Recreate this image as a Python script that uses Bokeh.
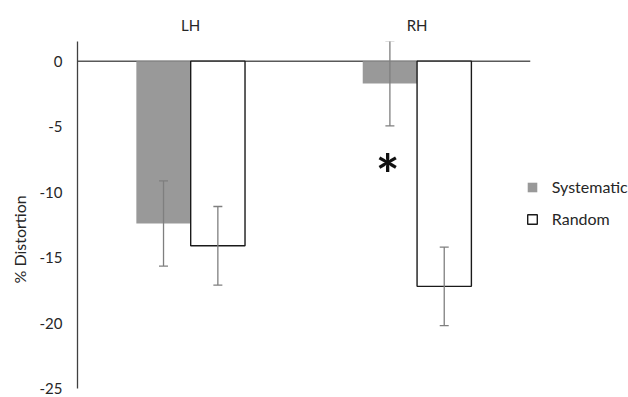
from bokeh.plotting import figure
from bokeh.models import (ColumnDataSource, Range1d, Title,
                          Legend, LegendItem, FixedTicker)
from bokeh.core.properties import value
from bokeh.embed import file_html
from bokeh.resources import INLINE

# ---- data ----
hemispheres = ["LH", "RH"]
systematic = [-12.4, -1.7]
systematic_err = [3.25, 3.25]
random_vals = [-14.1, -17.2]
random_err = [3.0, 3.0]
y_ticks = [-25, -20, -15, -10, -5, 0]
significant = ["RH"]

FONT = "Lato"
TXT = "#262626"
GREY = "#999999"
ERR = "#7f7f7f"
W = 0.24

pos = [i + 1 for i in range(len(hemispheres))]
src = ColumnDataSource(data=dict(
    xs=[x - W / 2 for x in pos],
    xr=[x + W / 2 for x in pos],
    sys=systematic,
    sys_lo=[v - e for v, e in zip(systematic, systematic_err)],
    sys_hi=[v + e for v, e in zip(systematic, systematic_err)],
    rnd=random_vals,
    rnd_lo=[v - e for v, e in zip(random_vals, random_err)],
    rnd_hi=[v + e for v, e in zip(random_vals, random_err)],
))

p = figure(width=628, height=397, x_range=Range1d(0.5, 2.934),
           y_range=Range1d(-25, 1.5), x_axis_location="above",
           output_backend="svg", toolbar_location=None,
           min_border_left=77, min_border_right=0, min_border_top=41, min_border_bottom=9)
p.outline_line_color = None
p.grid.visible = False
p.background_fill_color = "white"

# zero baseline across the category span
p.segment(x0=[0.5], x1=[len(hemispheres) + 0.5], y0=[0], y1=[0],
          line_color="#595959", line_width=1.5)

r_sys = p.vbar(x="xs", top="sys", bottom=0, width=W, source=src,
               fill_color=GREY, line_color=None)
r_rnd = p.vbar(x="xr", top="rnd", bottom=0, width=W, source=src,
               fill_color="white", line_color="#1a1a1a", line_width=1.4)

for xcol, lo, hi in [("xs", "sys_lo", "sys_hi"), ("xr", "rnd_lo", "rnd_hi")]:
    p.segment(x0=xcol, x1=xcol, y0=lo, y1=hi, source=src, line_color=ERR, line_width=1.3)
    p.scatter(x=xcol, y=lo, source=src, marker="dash", size=9, line_color=ERR, line_width=1.3)
    p.scatter(x=xcol, y=hi, source=src, marker="dash", size=9, line_color=ERR, line_width=1.3)

sig_x = [pos[hemispheres.index(h)] - W / 2 - 0.01 for h in significant]
sig_src = ColumnDataSource(data=dict(x=sig_x, y=[-8.6] * len(sig_x), t=["*"] * len(sig_x)))
p.text(x="x", y="y", text="t", source=sig_src,
       text_font=value(FONT), text_font_size="56px", text_font_style="bold",
       text_align="center", text_baseline="middle", text_color="#111111")

# axes
xa = p.xaxis[0]
xa.ticker = FixedTicker(ticks=pos)
xa.major_label_overrides = {x: h for x, h in zip(pos, hemispheres)}
xa.axis_line_color = None
xa.major_tick_line_color = None
xa.minor_tick_line_color = None
xa.major_tick_out = 0
xa.major_tick_in = 0
xa.major_label_standoff = 8
xa.major_label_text_font = FONT
xa.major_label_text_font_size = "15px"
xa.major_label_text_color = TXT

ya = p.yaxis[0]
ya.ticker = FixedTicker(ticks=y_ticks)
ya.major_label_overrides = {t: str(t) for t in y_ticks}
ya.axis_line_color = "#404040"
ya.axis_line_width = 1.3
ya.major_tick_line_color = None
ya.minor_tick_line_color = None
ya.major_tick_out = 0
ya.major_tick_in = 0
ya.major_label_standoff = 15
ya.major_label_text_font = FONT
ya.major_label_text_font_size = "15px"
ya.major_label_text_color = TXT

ytitle = Title(text="% Distortion", align="left", offset=105, standoff=15,
               text_font=FONT, text_font_size="16px", text_font_style="normal",
               text_color=TXT)
p.add_layout(ytitle, "left")

legend = Legend(items=[LegendItem(label="Systematic", renderers=[r_sys]),
                       LegendItem(label="Random", renderers=[r_rnd])],
                location=(448.8, 159.5), orientation="vertical",
                glyph_width=12, glyph_height=12, label_standoff=14,
                label_height=20, spacing=12, padding=0, margin=0,
                border_line_color=None, background_fill_alpha=0,
                label_text_font=FONT, label_text_font_size="16px",
                label_text_color=TXT)
p.add_layout(legend)

open("out.html", "w").write(file_html(p, INLINE))
